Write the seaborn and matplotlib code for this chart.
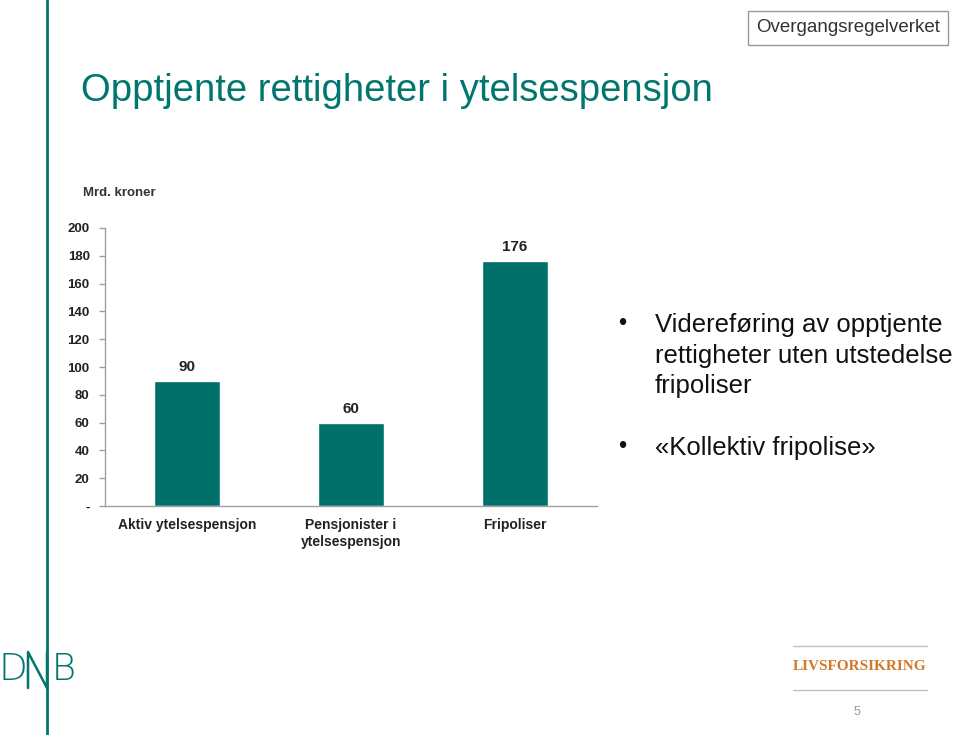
import matplotlib
matplotlib.use("Agg")
import matplotlib.pyplot as plt
import seaborn as sns
import pandas as pd
from matplotlib.lines import Line2D

categories = ["Aktiv ytelsespensjon", "Pensjonister i\nytelsespensjon", "Fripoliser"]
values = [90, 60, 176]
value_labels = ["90", "60", "176"]
yticks = [0, 20, 40, 60, 80, 100, 120, 140, 160, 180, 200]
ytick_labels = ["-", "20", "40", "60", "80", "100", "120", "140", "160", "180", "200"]
bullets = ["Videreføring av opptjente\nrettigheter uten utstedelse\nfripoliser", "«Kollektiv fripolise»"]

sns.set_theme(style="white")
plt.rcParams["font.family"] = ["Liberation Sans", "DejaVu Sans"]

TEAL = "#00706B"
TITLE = "#00766F"

fig = plt.figure(figsize=(9.59, 7.35), dpi=100)
W, H = 959, 735
def fx(px): return px / W
def fy(py): return 1 - py / H

ax = fig.add_axes([fx(105), fy(506), fx(597) - fx(105), fy(228) - fy(506)])
df = pd.DataFrame({"cat": categories, "val": values})
sns.barplot(data=df, x="cat", y="val", color=TEAL, width=0.4, saturation=1, ax=ax)
ax.set_xlim(-0.5, 2.5)
ax.set_ylim(0, 200)
ax.set_xlabel("")
ax.set_ylabel("")
ax.set_yticks(yticks)
ax.set_yticklabels(ytick_labels, fontsize=9.5, fontweight="bold", color="#222222")
ax.set_xticks(range(len(categories)))
ax.set_xticklabels(categories, fontsize=10, fontweight="bold", color="#222222")
ax.set_xticks([-0.5, 0.5, 1.5, 2.5], minor=True)
ax.tick_params(axis="x", which="major", length=0, pad=9)
ax.tick_params(axis="x", which="minor", length=4, color="#A0A0A0", width=1, direction="out")
ax.tick_params(axis="y", length=4, color="#A0A0A0", width=1, direction="out", pad=7, left=True)
for s in ["top", "right"]:
    ax.spines[s].set_visible(False)
for s in ["left", "bottom"]:
    ax.spines[s].set_color("#A0A0A0")
    ax.spines[s].set_linewidth(1)
for i, (v, t) in enumerate(zip(values, value_labels)):
    ax.annotate(t, (i, v), xytext=(0, 5), textcoords="offset points", ha="center", va="bottom",
                fontsize=11, fontweight="bold", color="#222222")

# Vertical brand line
fig.add_artist(Line2D([fx(47), fx(47)], [0, 1], color=TITLE, lw=2.0))

# Title
fig.text(fx(81), fy(101), "Opptjente rettigheter i ytelsespensjon", fontsize=27.5, color=TITLE, va="baseline", ha="left")

# Top-right box
fig.text(fx(848), fy(28), "Overgangsregelverket", fontsize=13.5, color="#333333", ha="center", va="center",
         bbox=dict(boxstyle="square,pad=0.45", fc="white", ec="#999999", lw=1))

# Units label
fig.text(fx(83), fy(193), "Mrd. kroner", fontsize=9.5, fontweight="bold", color="#333333", ha="left", va="center")

# Bullets
fig.text(fx(618), fy(324), "•", fontsize=17, color="#111111", ha="left", va="center")
fig.text(fx(655), fy(313), bullets[0], fontsize=18.5, color="#111111", ha="left", va="top", linespacing=1.35)
fig.text(fx(618), fy(447), "•", fontsize=17, color="#111111", ha="left", va="center")
fig.text(fx(655), fy(448), bullets[1], fontsize=18.5, color="#111111", ha="left", va="center")

# DNB logo
fig.text(fx(38), fy(670), "D  B", fontsize=27, color=TITLE, ha="center", va="center", fontweight="light",
         family=["DejaVu Sans"])
fig.add_artist(Line2D([fx(28), fx(28), fx(47), fx(47)], [fy(688), fy(652), fy(688), fy(652)], color=TITLE, lw=1.8))

# Livsforsikring
fig.add_artist(Line2D([fx(793), fx(927)], [fy(646), fy(646)], color="#C8C0B8", lw=1))
fig.add_artist(Line2D([fx(793), fx(927)], [fy(690), fy(690)], color="#C8C0B8", lw=1))
fig.text(fx(860), fy(667), "LIVSFORSIKRING", fontsize=11, color="#D07A2A", ha="center", va="center",
         fontweight="bold", family=["Liberation Serif", "DejaVu Serif"])
fig.text(fx(857), fy(712), "5", fontsize=9, color="#999999", ha="center", va="center")

fig.savefig("out.png", dpi=100)
